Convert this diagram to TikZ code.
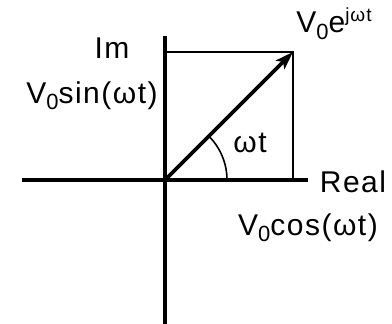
\documentclass[tikz,border=0pt]{standalone}
\usepackage{fontspec}
\setmainfont[LetterSpace=5]{Liberation Sans}
\usetikzlibrary{arrows.meta,calc}
\newcommand\lowsub[1]{\raisebox{-6pt}{\fontsize{22}{24}\selectfont #1}}
\newcommand\highsup[1]{\raisebox{11pt}{\fontsize{19}{21}\selectfont #1}}
\begin{document}
\begin{tikzpicture}[x=1pt,y=-1pt,
  axis/.style={line width=4pt},
  thin line/.style={line width=1.6pt},
  phasor/.style={line width=3.6pt,-{Stealth[length=18pt,width=12pt,inset=4pt]}},
  lbl/.style={inner sep=0pt,anchor=base,font=\fontsize{30}{34}\selectfont}]
\useasboundingbox (0,0) rectangle (392,324);
\coordinate (O) at (165,180);
\coordinate (P) at (293,52);
\coordinate (Xl) at (22,180);
\coordinate (Xr) at (308,180);
\coordinate (Yt) at (165,36);
\coordinate (Yb) at (165,324);
\coordinate (Px) at (293,180);
\coordinate (Py) at (165,52);
\draw[thin line] (Py) -- (P) -- (Px);
\draw[axis] (Xl) -- (Xr);
\draw[axis] (Yt) -- (Yb);
\draw[thin line] ($(O)+(62,0)$) arc[start angle=0,end angle=-45,radius=62];
\draw[phasor] (O) -- (P);
\node[lbl] (im) at (112,58) {Im};
\node[lbl] (sin) at (92,103) {V\lowsub{0}sin(ωt)};
\node[lbl] (exp) at (334,33) {V\lowsub{0}e\highsup{jωt}};
\node[lbl] (wt) at (250,152) {ωt};
\node[lbl] (re) at (353,193) {Real};
\node[lbl] (cos) at (308,235) {V\lowsub{0}cos(ωt)};
\end{tikzpicture}
\end{document}
